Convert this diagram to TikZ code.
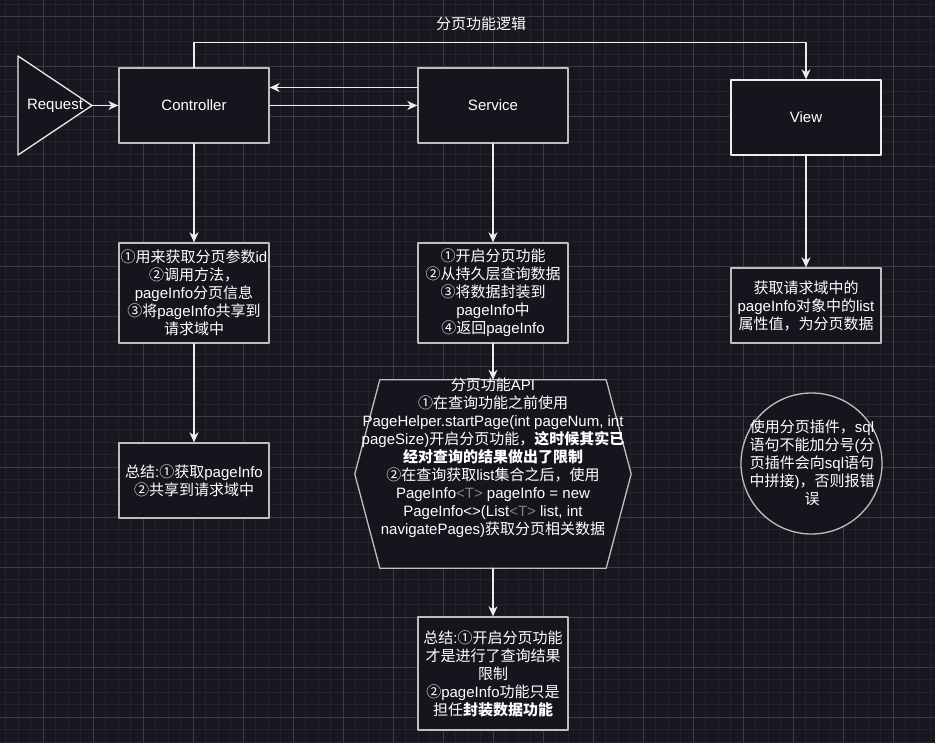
\documentclass[tikz,border=0pt]{standalone}
\usepackage{fontspec}
\usepackage{tikz}
\usetikzlibrary{arrows.meta}
\setmainfont{Liberation Sans}
\newfontfamily\cjkfont{Noto Sans CJK SC}
% Chinese characters switch to the CJK font on their own
\XeTeXinterchartokenstate=1
\newXeTeXintercharclass\cjkclass
\newcount\chcount
\chcount="4E00
\loop
  \XeTeXcharclass\chcount=\cjkclass
  \ifnum\chcount<"9FFF \advance\chcount by 1
\repeat
\XeTeXcharclass"FF0C=\cjkclass
\XeTeXcharclass"2460=\cjkclass
\XeTeXcharclass"2461=\cjkclass
\XeTeXcharclass"2462=\cjkclass
\XeTeXcharclass"2463=\cjkclass
\XeTeXinterchartoks 0 \cjkclass = {\begingroup\cjkfont}
\XeTeXinterchartoks 4095 \cjkclass = {\begingroup\cjkfont}
\XeTeXinterchartoks \cjkclass 0 = {\endgroup}
\XeTeXinterchartoks \cjkclass 4095 = {\endgroup}
\definecolor{bgcol}{RGB}{24,22,31}
\definecolor{gridminor}{RGB}{36,34,43}
\definecolor{gridmajor}{RGB}{60,58,66}
\definecolor{boxfill}{RGB}{24,20,30}
\definecolor{boxline}{RGB}{190,190,190}
\definecolor{wireline}{RGB}{236,236,236}
\definecolor{typegray}{RGB}{130,130,130}
\newcommand{\txtfont}{\fontsize{15}{18}\selectfont}

\begin{document}
\begin{tikzpicture}[line cap=round,line join=round,>={Stealth[length=10pt,width=9pt,inset=3pt]},x=1pt,y=-1pt,
    txt/.style={text=white,align=center,font=\txtfont,inner sep=0pt},
    box/.style={txt,draw=boxline,fill=boxfill,line width=1.3pt,minimum width=150pt,minimum height=75pt},
    wire/.style={draw=wireline,line width=1.3pt}]
      \fill[bgcol] (0,0) rectangle (935,743);
      \useasboundingbox (0,0) rectangle (935,743);
      \foreach \i in {0,...,74}
      \draw[gridminor,line width=1pt] ({5.5+12.5*\i},0) -- ++(0,743);
      \foreach \i in {0,...,59}
      \draw[gridminor,line width=1pt] (0,{4.5+12.5*\i}) -- ++(935,0);
      \foreach \i in {0,...,17}
      \draw[gridmajor,line width=1pt] ({43+50*\i},0) -- ++(0,743);
      \foreach \i in {0,...,14}
      \draw[gridmajor,line width=1pt] (0,{17+50*\i}) -- ++(935,0);
      \node[txt] (title) at (481,24) {分页功能逻辑};
      \draw[draw=wireline,fill=boxfill,line width=1.3pt] (18,56) -- (92,105.5) -- (18,155) -- cycle;
      \node[txt] (req) at (55,105.5) {Request};
      \coordinate (reqtip) at (92,105.5);
      \node[box] (ctrl) at (194,105.5) {Controller};
      \node[box] (svc) at (493,105.5) {Service};
      \node[box,draw=wireline] (view) at (806,117.5) {View};
      \node[box,minimum height=100pt] (step1) at (194,293) {①用来获取分页参数id\\②调用方法，\\pageInfo分页信息\\③将pageInfo共享到\\请求域中};
      \node[box,minimum height=100pt] (step2) at (493,293) {①开启分页功能\\②从持久层查询数据\\③将数据封装到\\pageInfo中\\④返回pageInfo};
      \node[box] (step3) at (806,305.5) {获取请求域中的\\pageInfo对象中的list\\属性值，为分页数据};
      \node[box] (sum1) at (194,480.5) {总结:①获取pageInfo\\②共享到请求域中};
      \node[minimum width=276pt,minimum height=188pt,inner sep=0pt] (api) at (493,474) {};
      \draw[draw=boxline,fill=boxfill,line width=1.3pt] (api.west) -- ([xshift=25pt]api.north west) -- ([xshift=-25pt]api.north east)
        -- (api.east) -- ([xshift=-25pt]api.south east) -- ([xshift=25pt]api.south west) -- cycle;
      \node[txt] (apitxt) at ([yshift=16pt]api.center) {分页功能API\\①在查询功能之前使用\\PageHelper.startPage(int pageNum, int\\pageSize)开启分页功能，{\bfseries 这时候其实已}\\{\bfseries 经对查询的结果做出了限制}\\②在查询获取list集合之后，使用\\PageInfo{\color{typegray}<T>} pageInfo = new\\PageInfo<>(List{\color{typegray}<T>} list, int\\navigatePages)获取分页相关数据};
      \node[box,minimum height=113pt] (sum2) at (493,673.5) {总结:①开启分页功能\\才是进行了查询结果\\限制\\②pageInfo功能只是\\担任{\bfseries 封装数据功能}};
      \node[txt,draw=boxline,fill=boxfill,line width=1.3pt,circle,minimum size=141pt] (tip) at (811.5,463.5) {};
      \node[txt] (tiptxt) at (812,462.5) {使用分页插件，sql\\语句不能加分号(分\\页插件会向sql语句\\中拼接)，否则报错\\误};
      \draw[wire,->] (reqtip) -- (ctrl.west);
      \draw[wire,->] (ctrl.east) -- (svc.west);
      \draw[wire,->] ([yshift=18pt]svc.west) -- ([yshift=18pt]ctrl.east);
      \draw[wire,->] (ctrl.north) -- ++(0,-25) -| (view.north);
      \draw[wire,->] (ctrl.south) -- (step1.north);
      \draw[wire,->] (step1.south) -- (sum1.north);
      \draw[wire,->] (svc.south) -- (step2.north);
      \draw[wire,->] (step2.south) -- (api.north);
      \draw[wire,->] (api.south) -- (sum2.north);
      \draw[wire,->] (view.south) -- (step3.north);
    \end{tikzpicture}
\end{document}
